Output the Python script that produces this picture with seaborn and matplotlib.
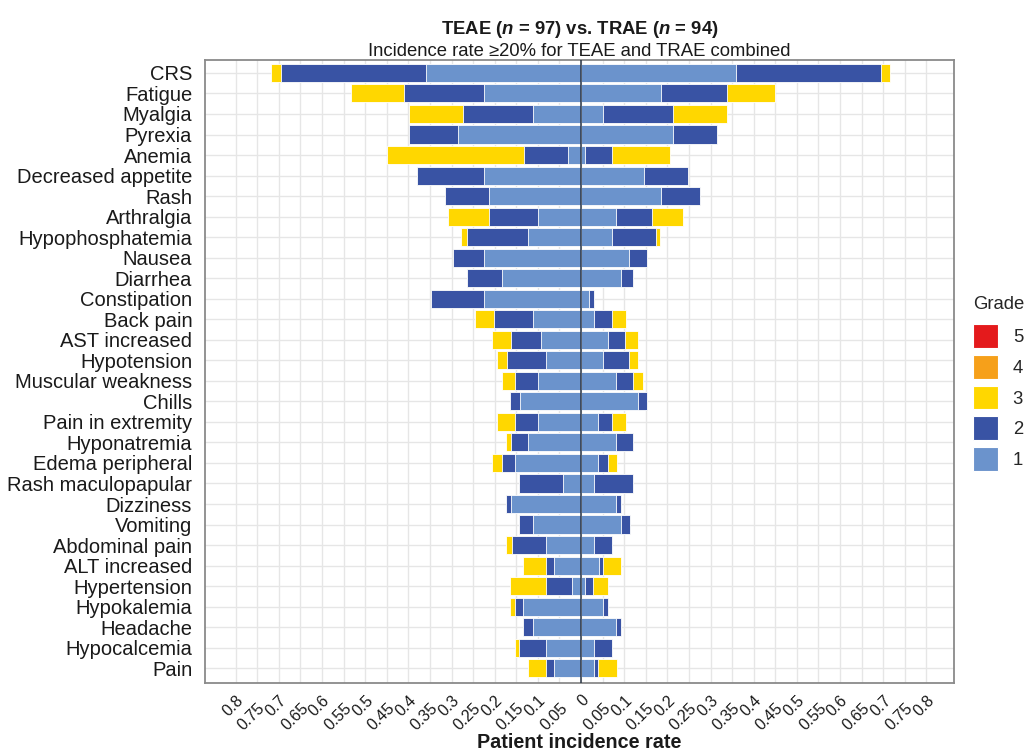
import numpy as np
import pandas as pd
import matplotlib
matplotlib.use("Agg")
import matplotlib.pyplot as plt
import matplotlib.transforms as mtrans
from matplotlib.patches import Patch
import seaborn as sns

# ---------------- data ----------------
ae = ["CRS", "Fatigue", "Myalgia", "Pyrexia", "Anemia", "Decreased appetite", "Rash",
      "Arthralgia", "Hypophosphatemia", "Nausea", "Diarrhea", "Constipation", "Back pain",
      "AST increased", "Hypotension", "Muscular weakness", "Chills", "Pain in extremity",
      "Hyponatremia", "Edema peripheral", "Rash maculopapular", "Dizziness", "Vomiting",
      "Abdominal pain", "ALT increased", "Hypertension", "Hypokalemia", "Headache",
      "Hypocalcemia", "Pain"]

# TEAE (left side), incidence rate by grade
teae_g1 = [0.358, 0.224, 0.111, 0.286, 0.031, 0.224, 0.212, 0.100, 0.122, 0.224,
           0.184, 0.224, 0.111, 0.093, 0.081, 0.100, 0.141, 0.100, 0.122, 0.153,
           0.041, 0.162, 0.111, 0.081, 0.063, 0.022, 0.134, 0.111, 0.081, 0.063]
teae_g2 = [0.336, 0.185, 0.162, 0.113, 0.100, 0.155, 0.103, 0.112, 0.143, 0.072,
           0.081, 0.124, 0.090, 0.069, 0.091, 0.053, 0.024, 0.053, 0.040, 0.031,
           0.102, 0.012, 0.032, 0.080, 0.018, 0.059, 0.019, 0.023, 0.062, 0.018]
teae_g3 = [0.023, 0.124, 0.126, 0.000, 0.319, 0.000, 0.000, 0.095, 0.012, 0.000,
           0.000, 0.000, 0.045, 0.044, 0.023, 0.031, 0.000, 0.042, 0.012, 0.022,
           0.000, 0.000, 0.000, 0.013, 0.053, 0.084, 0.012, 0.000, 0.010, 0.041]
teae_g4 = [0.0] * 30
teae_g5 = [0.0] * 30

# TRAE (right side), incidence rate by grade
trae_g1 = [0.358, 0.185, 0.052, 0.214, 0.010, 0.145, 0.185, 0.081, 0.071, 0.111,
           0.093, 0.019, 0.031, 0.062, 0.052, 0.081, 0.133, 0.040, 0.081, 0.040,
           0.029, 0.081, 0.093, 0.031, 0.042, 0.010, 0.052, 0.081, 0.031, 0.031]
trae_g2 = [0.337, 0.153, 0.162, 0.100, 0.061, 0.102, 0.091, 0.084, 0.102, 0.041,
           0.028, 0.010, 0.040, 0.040, 0.060, 0.040, 0.021, 0.031, 0.040, 0.022,
           0.092, 0.012, 0.021, 0.040, 0.010, 0.018, 0.010, 0.012, 0.040, 0.009]
trae_g3 = [0.021, 0.112, 0.124, 0.000, 0.135, 0.000, 0.000, 0.071, 0.010, 0.000,
           0.000, 0.000, 0.033, 0.029, 0.021, 0.022, 0.000, 0.033, 0.000, 0.021,
           0.000, 0.000, 0.000, 0.000, 0.041, 0.035, 0.000, 0.000, 0.000, 0.043]
trae_g4 = [0.0] * 30
trae_g5 = [0.0] * 30

grades = ["5", "4", "3", "2", "1"]
grade_colors = {"5": "#E41A1C", "4": "#F6A01A", "3": "#FFD700", "2": "#3953A4", "1": "#6B93CC"}

tick_vals = [-0.8, -0.75, -0.7, -0.65, -0.6, -0.55, -0.5, -0.45, -0.4, -0.35, -0.3, -0.25,
             -0.2, -0.15, -0.1, -0.05, 0, 0.05, 0.1, 0.15, 0.2, 0.25, 0.3, 0.35, 0.4, 0.45,
             0.5, 0.55, 0.6, 0.65, 0.7, 0.75, 0.8]
tick_labels = ["0.8", "0.75", "0.7", "0.65", "0.6", "0.55", "0.5", "0.45", "0.4", "0.35",
               "0.3", "0.25", "0.2", "0.15", "0.1", "0.05", "0", "0.05", "0.1", "0.15",
               "0.2", "0.25", "0.3", "0.35", "0.4", "0.45", "0.5", "0.55", "0.6", "0.65",
               "0.7", "0.75", "0.8"]

# ---------------- style ----------------
sns.set_style("white")
plt.rcParams["font.family"] = ["Liberation Sans", "DejaVu Sans"]
plt.rcParams["mathtext.fontset"] = "custom"
plt.rcParams["mathtext.it"] = "Liberation Sans:italic:bold"
plt.rcParams["mathtext.rm"] = "Liberation Sans:bold"

fig = plt.figure(figsize=(10.30, 7.53), dpi=100)
ax = fig.add_axes([205 / 1030, 1 - 683 / 753, (954 - 205) / 1030, (683 - 60) / 753])
ax.set_axisbelow(True)


def stack_side(g1, g2, g3, g4, g5, sign):
    layers = {"1": np.array(g1), "2": np.array(g2), "3": np.array(g3),
              "4": np.array(g4), "5": np.array(g5)}
    cum = {}
    run = np.zeros(len(ae))
    for g in ["1", "2", "3", "4", "5"]:
        run = run + layers[g]
        cum[g] = run.copy()
    for g in grades:  # draw from highest cumulative down
        if layers[g].sum() <= 0:
            continue
        df = pd.DataFrame({"ae": ae, "val": sign * cum[g]})
        sns.barplot(data=df, x="val", y="ae", order=ae, orient="h",
                    color=grade_colors[g], saturation=1, width=0.88,
                    edgecolor="white", linewidth=0.6, ax=ax, zorder=2)


stack_side(teae_g1, teae_g2, teae_g3, teae_g4, teae_g5, -1)
stack_side(trae_g1, trae_g2, trae_g3, trae_g4, trae_g5, 1)

ax.set_xlim(-0.871, 0.864)
ax.set_ylim(len(ae) - 1 + 0.72, -0.63)
ax.set_xticks(tick_vals)
ax.set_xticklabels(tick_labels)
ax.set_xlabel("")
ax.set_ylabel("")

ax.grid(True, axis="both", color="#E6E6E6", linewidth=1.0, zorder=0)
ax.set_axisbelow(True)

ax.axvline(0, color="#2A3545", linewidth=1.1, zorder=5)

for sp in ax.spines.values():
    sp.set_color("#8A8A8A")
    sp.set_linewidth(1.3)

ax.tick_params(axis="y", length=4, width=0.8, color="#555555", labelsize=14.5,
               labelcolor="#1A1A1A", pad=5.2)
ax.tick_params(axis="x", length=4, width=0.8, color="#555555", labelsize=11.5,
               labelcolor="#1A1A1A", pad=3)

for i, lab in enumerate(ax.get_xticklabels()):
    lab.set_rotation(45)
    lab.set_ha("right")
    lab.set_va("top")
    lab.set_rotation_mode("anchor")
    if i % 2 == 1:
        lab.set_transform(lab.get_transform() +
                          mtrans.ScaledTranslation(0, -8 / 100, fig.dpi_scale_trans))

# titles
cx = (205 + 954) / 2 / 1030
fig.text(cx, 1 - 33.5 / 753, r"TEAE ($n$ = 97) vs. TRAE ($n$ = 94)", ha="center",
         va="baseline", fontsize=13.3, fontweight="bold", color="#1A1A1A")
fig.text(cx, 1 - 55.5 / 753, "Incidence rate ≥20% for TEAE and TRAE combined", ha="center",
         va="baseline", fontsize=13.3, color="#1A1A1A")
fig.text(cx, 1 - 748 / 753, "Patient incidence rate", ha="center", va="baseline",
         fontsize=14.2, fontweight="bold", color="#1A1A1A")

# legend
handles = [Patch(facecolor=grade_colors[g], edgecolor="white", linewidth=0.8, label=g)
           for g in grades]
leg = fig.legend(handles=handles, title="Grade", loc="upper left",
                 bbox_to_anchor=(973 / 1030, 1 - 296 / 753), frameon=False,
                 fontsize=13.3, title_fontsize=13.3, handlelength=1.35, handleheight=1.6,
                 labelspacing=0.38, handletextpad=0.8, borderpad=0, borderaxespad=0,
                 alignment="left")
leg._legend_box.sep = 8

fig.savefig("out.png", dpi=100)
